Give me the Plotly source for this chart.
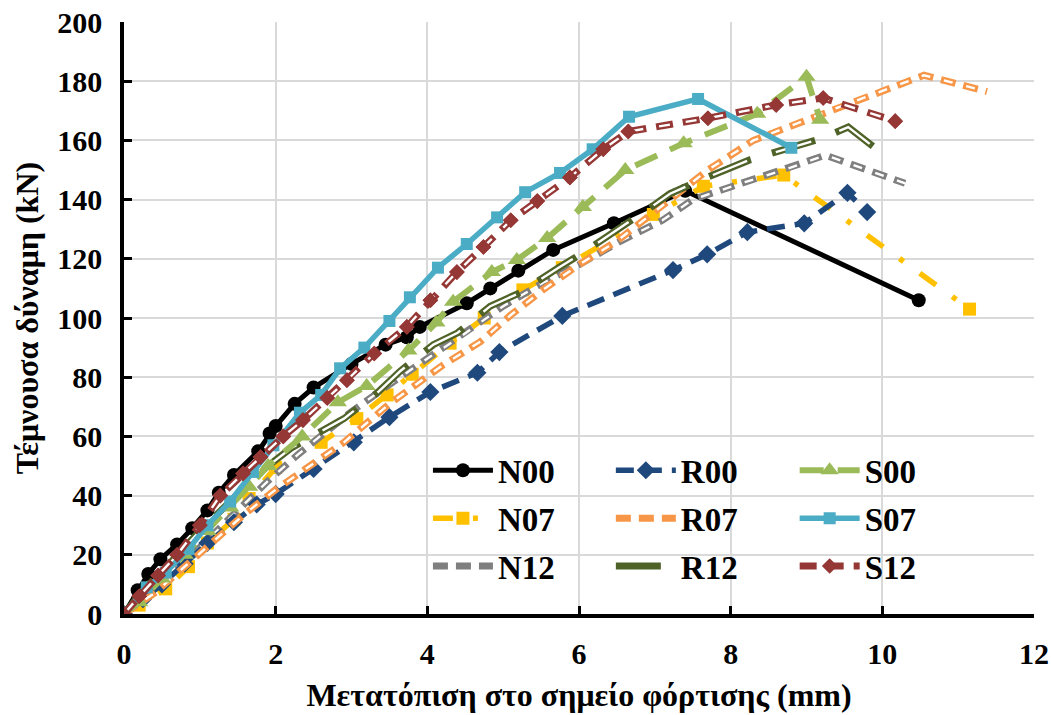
import plotly.graph_objects as go

# ---------------- data ----------------
n00_x = [0, 0.18, 0.32, 0.48, 0.7, 0.9, 1.1, 1.25, 1.45, 1.77, 1.92, 2.0, 2.25, 2.5, 3.0, 3.45, 3.73, 3.9, 4.52, 4.83, 5.2, 5.66, 6.46, 7.4, 10.48]
n00_y = [0, 8, 13.5, 18.5, 23.5, 29, 35, 41, 47, 55, 61, 63.5, 71, 76.5, 84.5, 91, 93.5, 97, 105, 110, 116, 123, 132, 143, 106]

r00_x = [0, 0.25, 0.5, 0.8, 1.1, 1.45, 1.75, 2.0, 2.5, 3.03, 3.5, 4.04, 4.66, 4.95, 5.78, 7.24, 7.69, 8.22, 8.97, 9.54, 9.8]
r00_y = [0, 5, 10, 17, 24, 31, 37, 40.5, 49, 58, 66.5, 75, 81.5, 88.5, 100.7, 116.2, 121.5, 129, 132, 142.3, 135.8]

s00_x = [0, 0.2, 0.5, 0.8, 1.1, 1.4, 1.65, 1.9, 2.35, 2.82, 3.2, 3.75, 4.12, 4.34, 4.85, 5.18, 5.58, 6.05, 6.61, 7.38, 8.35, 9.0, 9.18]
s00_y = [0, 4, 12, 20, 28, 36, 43, 50, 60, 71.5, 77, 89, 98.5, 105.5, 115.5, 119.6, 127, 137.5, 150, 159, 169, 181.5, 167]

n07_x = [0, 0.2, 0.55, 0.85, 1.1, 1.45, 1.65, 2.0, 2.6, 3.07, 3.47, 3.8, 4.3, 4.75, 5.26, 5.78, 6.98, 7.64, 8.7, 11.15]
n07_y = [0, 3, 8.5, 16, 24, 32, 39, 49.5, 58, 66, 74, 81, 91.5, 100, 109.5, 117, 135, 144.5, 148.3, 103]

r07_x = [0, 0.4, 0.8, 1.2, 1.6, 2.0, 2.5, 2.9, 3.5, 4.2, 4.7, 5.1, 5.55, 6.0, 6.5, 7.0, 7.4, 7.7, 8.3, 9.3, 10.55, 11.38]
r07_y = [0, 7, 16, 25, 34, 42, 51, 58, 71, 84, 92, 101, 110, 118, 126, 136, 144, 150, 160, 170, 182, 176.5]

s07_x = [0, 0.3, 0.55, 0.85, 1.1, 1.4, 1.7, 1.97, 2.32, 2.6, 2.85, 3.17, 3.5, 3.77, 4.14, 4.52, 4.92, 5.29, 5.75, 6.18, 6.66, 7.57, 8.8]
s07_y = [0, 9, 14, 22, 30, 38, 48, 57, 68, 74, 83, 90, 99, 107, 117, 125, 134, 142.5, 149, 157, 168, 174, 157.5]

n12_x = [0, 0.3, 0.7, 1.1, 1.5, 1.9, 2.3, 2.63, 2.98, 3.47, 4.04, 4.4, 5.0, 5.53, 6.0, 6.55, 7.1, 7.5, 8.2, 8.7, 9.25, 10.3]
n12_y = [0, 6, 15, 25, 35, 45, 54, 61, 68, 77, 87, 93, 104, 112, 118, 126, 133, 140, 146, 150, 155, 145.5]

r12_x = [0, 0.25, 0.6, 1.0, 1.4, 1.8, 2.2, 2.55, 2.9, 3.35, 3.64, 4.08, 4.4, 4.83, 5.22, 5.73, 6.05, 6.98, 7.2, 7.67, 8.26, 9.18, 9.55, 10.0]
r12_y = [0, 8, 17, 28, 38, 48, 56, 61, 66, 75, 82, 91, 95, 104, 108.5, 117, 122, 138, 142, 147.3, 153.5, 160.5, 164.5, 155.5]

s12_x = [0, 0.2, 0.45, 0.7, 1.0, 1.27, 1.57, 1.8, 2.1, 2.36, 2.68, 2.94, 3.3, 3.73, 4.04, 4.39, 4.74, 5.1, 5.45, 5.88, 6.32, 6.65, 7.7, 8.6, 9.22, 10.17]
s12_y = [0, 6, 13, 20, 30, 40, 47.5, 53, 60, 65.5, 73, 79, 88, 97, 106, 115.5, 124, 133, 139.5, 147.5, 157, 163, 167.5, 172, 174.3, 166.5]

x_title = "Μετατόπιση στο σημείο φόρτισης (mm)"
y_title = "Τέμνουσα δύναμη (kN)"

FONT = "Liberation Serif"

fig = go.Figure()


def add(name, x, y, color, width, dash, legend, symbol=None, msize=10, core=None):
    mode = "lines+markers" if symbol else "lines"
    fig.add_trace(go.Scatter(
        x=x, y=y, name=name, mode=mode, legend=legend, legendgroup=name,
        line=dict(color=color, width=width, dash=dash),
        marker=dict(symbol=symbol or "circle", size=msize, color=color,
                    line=dict(width=0)),
    ))
    if core:
        fig.add_trace(go.Scatter(
            x=x, y=y, name=name, mode=mode, showlegend=False,
            legend=legend, legendgroup=name, hoverinfo="skip",
            line=dict(color="white", width=2.4, dash=core),
            marker=dict(symbol=symbol or "circle", size=msize, color=color,
                        line=dict(width=0)),
        ))


# column 1 (legend), column 2 (legend2), column 3 (legend3)
add("N00", n00_x, n00_y, "#000000", 5, "solid", "legend", "circle", 14)
add("N07", n07_x, n07_y, "#FFC000", 5.5, "20px,20px,5px,20px", "legend", "square", 13)
add("N12", n12_x, n12_y, "#7F7F7F", 7, "15px,8px", "legend", None, core="0px,3px,9px,11px")
add("R00", r00_x, r00_y, "#1F497D", 5.5, "18px,10px", "legend2", "diamond", 14)
add("R07", r07_x, r07_y, "#F79646", 7, "15px,8px", "legend2", None, core="0px,3px,9px,11px")
add("R12", r12_x, r12_y, "#4F6228", 7, "45px,22px", "legend2", None, core="0px,4px,37px,26px")
add("S00", s00_x, s00_y, "#9BBB59", 6, "24px,14px", "legend3", "triangle-up", 16)
add("S07", s07_x, s07_y, "#4BACC6", 5.5, "solid", "legend3", "square", 12)
add("S12", s12_x, s12_y, "#953735", 7, "17px,10px", "legend3", "diamond", 12, core="0px,3px,11px,13px")


def leg(x):
    return dict(
        orientation="v",
        x=x, y=0.29, xanchor="left", yanchor="top",
        bgcolor="rgba(0,0,0,0)",
        font=dict(family=FONT, size=33, color="black", weight="bold"),
        itemwidth=60,
        traceorder="grouped",
        tracegroupgap=2,
    )


fig.update_layout(
    width=1051, height=715,
    margin=dict(l=124, r=17, t=22, b=101, autoexpand=False),
    paper_bgcolor="white", plot_bgcolor="white",
    font=dict(family=FONT, color="black", size=30),
    showlegend=True,
    legend=leg(0.334),
    legend2=leg(0.535),
    legend3=leg(0.737),
)

fig.update_xaxes(
    range=[0, 12], dtick=2, tick0=0,
    showline=True, linecolor="black", linewidth=3.5,
    ticks="inside", ticklen=8, tickwidth=3, tickcolor="black",
    showgrid=True, gridcolor="#D9D9D9", gridwidth=2,
    zeroline=False,
    tickfont=dict(family=FONT, size=30, color="black", weight="bold"),
    title=dict(text=x_title, font=dict(family=FONT, size=32, color="black", weight="bold"), standoff=16),
    ticklabelstandoff=10,
)
fig.update_yaxes(
    range=[0, 200], dtick=20, tick0=0,
    showline=True, linecolor="black", linewidth=3.5,
    ticks="inside", ticklen=8, tickwidth=3, tickcolor="black",
    showgrid=True, gridcolor="#D9D9D9", gridwidth=2,
    zeroline=False,
    tickfont=dict(family=FONT, size=30, color="black", weight="bold"),
    title=dict(text=y_title, font=dict(family=FONT, size=32, color="black", weight="bold"), standoff=10),
    ticklabelstandoff=12,
)

fig.write_html("out.html")
